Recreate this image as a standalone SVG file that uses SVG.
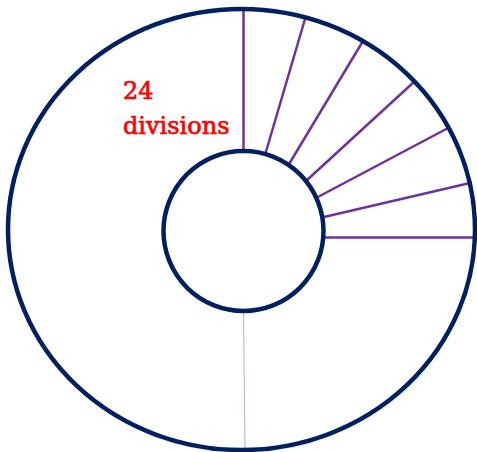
<svg xmlns="http://www.w3.org/2000/svg" width="477" height="452" viewBox="0 0 477 452">
<style>
.ring{fill:none;stroke:#002060;stroke-width:4.5}
.div{stroke:#7030a0;stroke-width:2.5;fill:none}
.thin{stroke:#9bb7e0;stroke-width:1;fill:none}
.lbl{font-family:"DejaVu Serif","Liberation Serif",serif;font-size:24px;fill:#ff0000;stroke:#ff0000;stroke-width:0.7}
</style>
<rect width="477" height="452" fill="#ffffff"/>
<g id="connectors">
<line class="div" x1="243.5" y1="11" x2="243.5" y2="151"/>
<line class="div" x1="265" y1="155" x2="305" y2="19"/>
<line class="div" x1="288.5" y1="165" x2="363" y2="41"/>
<line class="div" x1="306" y1="181" x2="415" y2="81"/>
<line class="div" x1="316" y1="198" x2="450" y2="127"/>
<line class="div" x1="324" y1="217" x2="470" y2="183"/>
<line class="div" x1="324" y1="237.5" x2="475" y2="237.5"/>
<line class="thin" x1="243.5" y1="312" x2="245" y2="449"/>
</g>
<g id="outer">
<ellipse class="ring" cx="241.5" cy="229.5" rx="233.5" ry="220.5"/>
</g>
<g id="inner">
<circle class="ring" cx="243.5" cy="231" r="80"/>
</g>
<g id="label">
<text class="lbl" x="123" y="99">24</text>
<text class="lbl" x="123" y="134">divisions</text>
</g>
</svg>
